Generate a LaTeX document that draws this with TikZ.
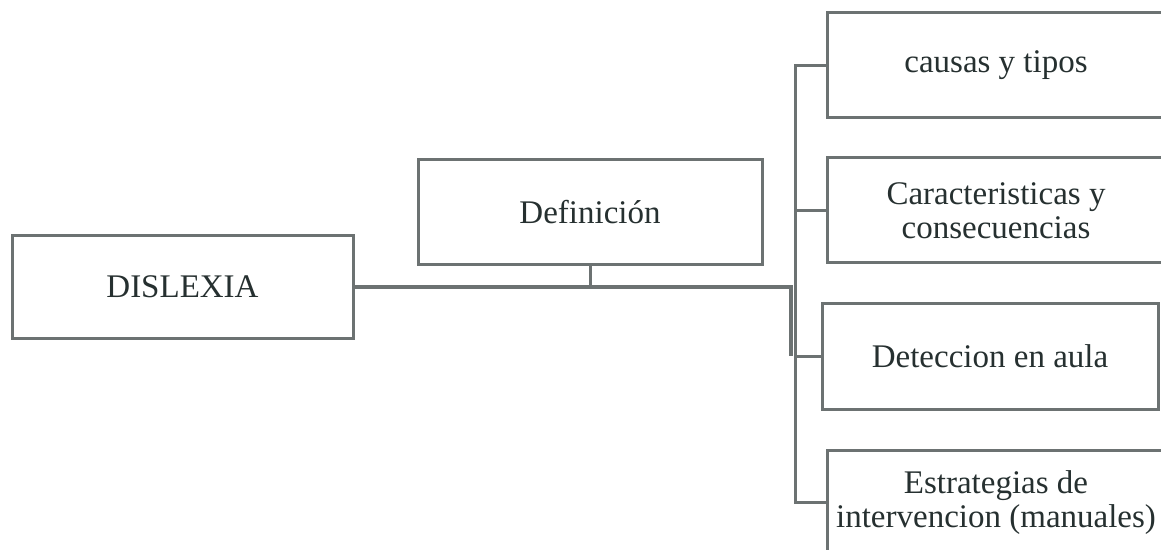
\documentclass[tikz,border=0pt]{standalone}
\usepackage{fontspec}
\setmainfont{Liberation Serif}
\usepackage{tikz}
\usetikzlibrary{calc}
\usepackage{xcolor}
\definecolor{trazo}{RGB}{108,114,114}
\definecolor{letra}{RGB}{38,48,48}

\begin{document}
\begin{tikzpicture}[x=0.5pt, y=-0.5pt, auto,
  caja/.style={draw=trazo, line width=1.5pt, fill=white, text=letra, align=center,
    minimum width=169pt, minimum height=52.5pt, inner sep=0pt, outer sep=0pt,
    font=\fontsize{16.5}{17}\selectfont},
  linea/.style={draw=trazo, line width=1.5pt}]
\useasboundingbox (0,0) rectangle (1161,550);
\clip (0,0) rectangle (1161,550);
\coordinate (eje) at (791,0);
\coordinate (bus) at (795,0);
\node[caja, minimum width=170.5pt, minimum height=51.5pt] (dislexia) at (182.5,287) {DISLEXIA};
\node[caja, minimum width=172pt] (definicion) at (590,212.5) {Definición};
\node[caja] (rama1) at (996,65.5) {causas y tipos};
\node[caja] (rama2) at (996,210.5) {Caracteristicas y\\consecuencias};
\node[caja, minimum width=168pt] (rama3) at (990,356.5) {Deteccion en aula};
\node[caja] (rama4) at (996,502.5) {Estrategias de\\intervencion (manuales)};
\draw[linea, line width=2pt] (dislexia.east) -- (dislexia.east -| eje) -- (rama3.west -| eje);
\draw[linea] (definicion.south) -- (definicion.south |- dislexia.east);
\draw[linea] (rama1.west) -- (rama1.west -| bus) -- (rama4.west -| bus) -- (rama4.west);
\draw[linea] (rama2.west) -- (rama2.west -| bus);
\draw[linea] (rama3.west) -- (rama3.west -| bus);
\end{tikzpicture}
\end{document}
